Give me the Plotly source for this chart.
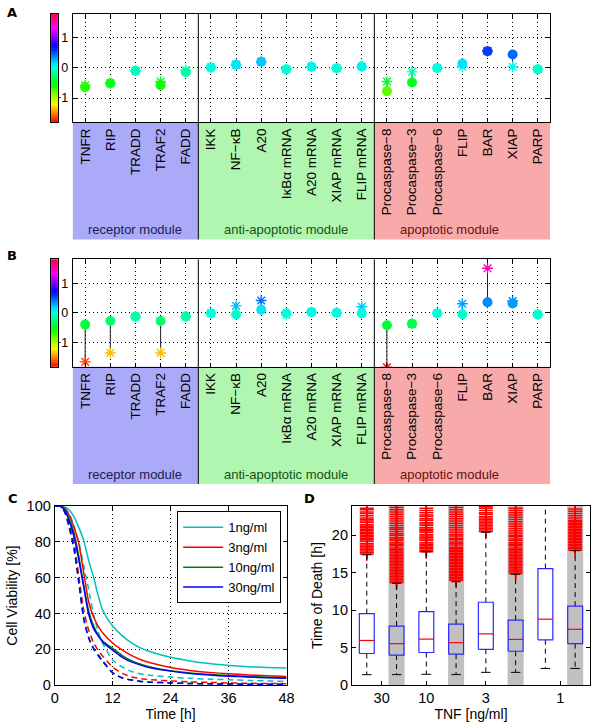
import colorsys
import plotly.graph_objects as go

W, H = 600, 728

# ---------------- data ----------------
cats = ["TNFR", "RIP", "TRADD", "TRAF2", "FADD",
        "IKK", "NF\u2212\u03baB", "A20", "I\u03baB\u03b1 mRNA", "A20 mRNA", "XIAP mRNA", "FLIP mRNA",
        "Procaspase\u22128", "Procaspase\u22123", "Procaspase\u22126", "FLIP", "BAR", "XIAP", "PARP"]
module_names = ["receptor module", "anti-apoptotic module", "apoptotic module"]
module_sizes = [5, 7, 7]
module_fill = ["#aaaaf8", "#b0f5b0", "#f8aaaa"]
module_text = ["#1c1c50", "#145214", "#6a1010"]

a_dot = [-0.64, -0.51, -0.09, -0.57, -0.14, 0.02, 0.11, 0.21, -0.04, 0.04, -0.01, 0.05,
         -0.77, -0.48, 0.0, 0.15, 0.56, 0.45, -0.04]
a_star = [-0.58, -0.51, -0.09, -0.45, -0.07, 0.02, 0.11, 0.21, -0.04, 0.04, -0.01, 0.05,
          -0.45, -0.13, 0.0, 0.04, 0.56, 0.04, -0.04]
b_dot = [-0.39, -0.27, -0.12, -0.27, -0.12, -0.01, -0.05, 0.11, -0.01, 0.03, 0.01, -0.01,
         -0.41, -0.36, -0.01, -0.04, 0.36, 0.32, -0.05]
b_star = [-1.64, -1.34, -0.12, -1.34, -0.12, -0.01, 0.24, 0.42, -0.07, 0.03, 0.01, 0.21,
          -1.82, -0.36, -0.01, 0.31, 1.50, 0.40, -0.05]
colorbar_levels = [-1.8 + 0.05 * i for i in range(73)]

t_hours = [0, 1, 2, 3, 4, 5, 6, 7, 8, 9, 10, 12, 14, 16, 18, 20, 24, 28, 32, 36, 40, 44, 48]
conc_labels = ["1ng/ml", "3ng/ml", "10ng/ml", "30ng/ml"]
conc_colors = ["#00bfbf", "#ff0000", "#008000", "#0000ff"]
via_solid = [
    [100, 100, 99.5, 98, 94, 88, 81, 70, 61, 50, 41.5, 33, 27.5, 23.5, 20.5, 18.5, 15.5, 13.5, 12, 11, 10.3, 9.8, 9.5],
    [100, 100, 99, 95, 88, 79, 63, 47, 38.5, 33, 29, 23.5, 19.5, 16.5, 14, 12.3, 9.8, 8.2, 7.1, 6.3, 5.7, 5.2, 4.8],
    [100, 100, 98.5, 93, 85, 72, 56, 42, 33.5, 28, 24.5, 20.5, 16.5, 13.5, 11.5, 10, 8, 6.8, 6, 5.3, 4.8, 4.4, 4.1],
    [100, 100, 98, 92, 83, 70, 55, 40, 32, 27.5, 24, 19.5, 15.5, 12.8, 11, 9.5, 7.8, 6.5, 5.6, 5, 4.5, 4.1, 3.8],
]
via_dash = [
    [100, 100, 99, 96, 89, 80, 67, 54, 40, 30, 23, 14, 10, 7.5, 6.2, 5.4, 4.5, 3.8, 3.3, 3, 2.6, 2.3, 2.1],
    [100, 100, 98, 91, 80, 61, 42, 31, 24, 19.5, 16, 10, 6.5, 4.5, 3.5, 3, 2.3, 1.8, 1.5, 1.2, 1, 0.9, 0.8],
    [100, 100, 97.5, 89, 77, 58, 38, 27, 21, 17, 13.5, 7, 4, 2.8, 2, 1.6, 1.2, 0.9, 0.7, 0.6, 0.5, 0.5, 0.5],
    [100, 100, 97, 88, 76, 57, 37, 26.5, 20.5, 16.5, 13, 6.8, 4, 2.8, 2, 1.6, 1.2, 0.9, 0.7, 0.6, 0.5, 0.5, 0.5],
]

tnf_labels = ["30", "10", "3", "1"]
tnf_tickpos = [1.5, 3, 5, 7.5]
box_pos = [1, 2, 3, 4, 5, 6, 7, 8]
box_shaded = [False, True, False, True, False, True, False, True]
box_q1 = [4.22, 4.0, 4.35, 4.13, 4.78, 4.52, 6.05, 5.53]
box_med = [5.96, 5.53, 6.14, 5.66, 6.84, 6.1, 8.8, 7.45]
box_q3 = [9.54, 7.88, 9.8, 8.14, 11.06, 8.67, 15.55, 10.54]
box_lo = [1.39, 1.4, 1.44, 1.4, 1.7, 1.7, 2.22, 2.22]
box_hi = [17.4, 13.6, 17.8, 13.8, 20.4, 14.8, 24.5, 17.95]
box_out = [
    [17.5, 17.7, 17.9, 18.1, 18.3, 18.5, 18.7, 18.9, 19.2, 19.4, 19.6, 19.8, 20.0, 20.2, 20.4, 20.6,
     20.8, 21.0, 21.2, 21.4, 21.7, 21.9, 22.1, 22.3, 22.6, 22.9, 23.1, 23.4, 23.6],
    [13.7, 13.9, 14.1, 14.3, 14.5, 14.7, 14.9, 15.1, 15.3, 15.5, 15.7, 15.9, 16.1, 16.3, 16.5, 16.7,
     16.9, 17.1, 17.3, 17.5, 17.7, 17.9, 18.1, 18.3, 18.6, 18.8, 19.0, 19.3, 19.5, 19.7, 20.0, 20.2,
     20.5, 20.8, 21.0, 21.3, 21.6, 21.9, 22.2, 22.5, 22.8, 23.1, 23.4, 23.7],
    [17.8, 18.0, 18.2, 18.4, 18.6, 18.8, 19.0, 19.3, 19.5, 19.7, 19.9, 20.1, 20.4, 20.6, 20.8, 21.0,
     21.3, 21.5, 21.7, 22.0, 22.2, 22.5, 22.7, 23.0, 23.3, 23.6],
    [14.0, 14.2, 14.4, 14.6, 14.8, 15.0, 15.2, 15.4, 15.6, 15.8, 16.0, 16.2, 16.4, 16.6, 16.8, 17.0,
     17.2, 17.4, 17.6, 17.8, 18.0, 18.2, 18.4, 18.7, 18.9, 19.1, 19.4, 19.6, 19.9, 20.1, 20.4, 20.7,
     21.0, 21.3, 21.6, 21.9, 22.2, 22.5, 22.8, 23.1, 23.4, 23.7],
    [20.5, 20.7, 20.9, 21.1, 21.3, 21.5, 21.7, 21.9, 22.1, 22.3, 22.5, 22.8, 23.0, 23.3, 23.6, 23.8],
    [14.9, 15.1, 15.3, 15.5, 15.7, 15.9, 16.1, 16.3, 16.5, 16.7, 16.9, 17.1, 17.3, 17.5, 17.7, 17.9,
     18.1, 18.3, 18.6, 18.8, 19.0, 19.3, 19.5, 19.8, 20.0, 20.3, 20.6, 20.9, 21.2, 21.5, 21.8, 22.1,
     22.4, 22.7, 23.0, 23.3, 23.6],
    [],
    [18.0, 18.2, 18.4, 18.6, 18.8, 19.0, 19.2, 19.4, 19.6, 19.8, 20.0, 20.2, 20.4, 20.6, 20.8, 21.0,
     21.2, 21.4, 21.6, 21.8, 22.0, 22.3, 22.6, 22.9, 23.2, 23.5],
]

# ---------------- helpers ----------------
FONT = "Liberation Sans, Arial, Helvetica, sans-serif"


def px_x(p):
    return p / W


def px_y(p):
    return 1 - p / H


# hsv colormap (MATLAB-like)
hsv_scale = []
N = 24
for i in range(N + 1):
    f = i / N
    r, g, b = colorsys.hsv_to_rgb(f * 0.96, 1.0, 1.0)
    hsv_scale.append([f, "rgb(%d,%d,%d)" % (round(r * 255), round(g * 255), round(b * 255))])

fig = go.Figure()

GRID = dict(showgrid=True, gridcolor="#000000", gridwidth=1, griddash="1px,3px")


def axstyle(size):
    return dict(showline=True, linecolor="black", linewidth=1, ticks="inside",
                ticklen=4, tickcolor="black", zeroline=False,
                tickfont=dict(size=size, color="black", family=FONT))


xpos = list(range(1, len(cats) + 1))
panels = [
    ("A", a_dot, a_star, 6.0, 116.7, 236.7, "coloraxis", "x", "y", "x5", "y5", 5),
    ("B", b_dot, b_star, 257.0, 366.7, 486.7, "coloraxis2", "x2", "y2", "x6", "y6", 253),
]
shapes = []
annotations = []
for k, (letter, dots, stars, top, bot, bandbot, cax, xr, yr, cbx, cby, ly) in enumerate(panels):
    stem_x, stem_y = [], []
    for xp, d, s in zip(xpos, dots, stars):
        stem_x += [xp, xp, None]
        stem_y += [d, s, None]
    fig.add_trace(go.Scatter(x=stem_x, y=stem_y, mode="lines", line=dict(color="#222222", width=1),
                             xaxis=xr, yaxis=yr, showlegend=False, hoverinfo="skip"))
    fig.add_trace(go.Scatter(x=xpos, y=stars, mode="markers", xaxis=xr, yaxis=yr, showlegend=False,
                             marker=dict(symbol="asterisk-open", size=9, color=stars, coloraxis=cax,
                                         line=dict(width=1.4))))
    fig.add_trace(go.Scatter(x=xpos, y=dots, mode="markers", xaxis=xr, yaxis=yr, showlegend=False,
                             marker=dict(symbol="circle", size=10, color=dots, coloraxis=cax,
                                         line=dict(width=0))))
    # colour bar drawn as a one-column heatmap
    fig.add_trace(go.Heatmap(z=[[v] for v in colorbar_levels], y=colorbar_levels, x=[0],
                             coloraxis=cax, xaxis=cbx, yaxis=cby, hoverinfo="skip"))
    # module bands
    start = 0.5
    for name, size, fc, tc in zip(module_names, module_sizes, module_fill, module_text):
        shapes.append(dict(type="rect", xref=xr, yref="paper", x0=start, x1=start + size,
                           y0=px_y(bandbot), y1=px_y(bot), fillcolor=fc, line=dict(width=0),
                           layer="below"))
        start += size
    start = 0.5
    for i, size in enumerate(module_sizes[:-1]):
        start += size
        shapes.append(dict(type="line", xref=xr, yref="paper", x0=start, x1=start,
                           y0=px_y(bandbot), y1=px_y(top), line=dict(color="black", width=1)))
    for name, cx, tc in zip(module_names, [3, 9, 15.5], module_text):
        annotations.append(dict(text=name, xref=xr, yref="paper", x=cx, y=px_y(bandbot - 10),
                                showarrow=False, font=dict(size=13, color=tc, family=FONT),
                                xanchor="center", yanchor="middle"))
    annotations.append(dict(text="<b>%s</b>" % letter, xref="paper", yref="paper", x=px_x(1),
                            y=px_y(ly), showarrow=False, xanchor="left", yanchor="middle",
                            font=dict(size=13, color="black", family="DejaVu Sans, Arial")))
    xa = dict(domain=[px_x(70), px_x(557.5)], range=[0.5, 19.5], tickmode="array", tickvals=xpos,
              ticktext=cats, tickangle=-90, anchor=yr, mirror="allticks", **axstyle(13.5), **GRID)
    ya = dict(domain=[px_y(bot), px_y(top)], range=[-1.8, 1.8], tickmode="array",
              tickvals=[-1, 0, 1], anchor=xr, mirror="allticks", ticklabelstandoff=1,
              **axstyle(12.5), **GRID)
    cbxa = dict(domain=[px_x(48), px_x(55)], range=[-0.5, 0.5], anchor=cby, showticklabels=False,
                ticks="", showgrid=False, zeroline=False, showline=True, linecolor="black",
                linewidth=1, mirror=True)
    cbya = dict(domain=[px_y(bot), px_y(top)], range=[-1.8, 1.8], anchor=cbx, showticklabels=False,
                ticks="", showgrid=False, zeroline=False, showline=True, linecolor="black",
                linewidth=1, mirror=True)
    xkey = "xaxis" if k == 0 else "xaxis2"
    ykey = "yaxis" if k == 0 else "yaxis2"
    fig.update_layout({xkey: xa, ykey: ya,
                       "xaxis%d" % (5 + k): cbxa, "yaxis%d" % (5 + k): cbya})
    fig.update_layout({cax: dict(cmin=-1.8, cmax=1.8, colorscale=hsv_scale, showscale=False)})

# ---------------- panel C ----------------
for lab, col, ys in zip(conc_labels, conc_colors, via_dash):
    fig.add_trace(go.Scatter(x=t_hours, y=ys, mode="lines", line=dict(color=col, width=1.5, dash="6px,4px",
                                                                        shape="spline", smoothing=0.6),
                             xaxis="x3", yaxis="y3", showlegend=False))
for lab, col, ys in zip(conc_labels, conc_colors, via_solid):
    fig.add_trace(go.Scatter(x=t_hours, y=ys, mode="lines", name=lab,
                             line=dict(color=col, width=1.5, shape="spline", smoothing=0.6),
                             xaxis="x3", yaxis="y3", showlegend=True))
fig.update_layout(
    xaxis3=dict(domain=[px_x(51.7), px_x(288.3)], range=[0, 48], tickvals=[0, 12, 24, 36, 48],
                anchor="y3", mirror="allticks",
                title=dict(text="Time [h]", font=dict(size=14), standoff=3), **axstyle(14.5), **GRID),
    yaxis3=dict(domain=[px_y(692.3), px_y(509.3)], range=[0, 100], tickvals=[0, 20, 40, 60, 80, 100],
                anchor="x3", mirror="allticks",
                title=dict(text="Cell Viability [%]", font=dict(size=14), standoff=5),
                **axstyle(14.5), **GRID),
)
annotations.append(dict(text="<b>C</b>", xref="paper", yref="paper", x=px_x(2), y=px_y(502),
                        showarrow=False, xanchor="left", yanchor="middle",
                        font=dict(size=13, color="black", family="DejaVu Sans, Arial")))

# ---------------- panel D ----------------
half_w = 0.25
cap_w = 0.16
band_w = 0.27
for p, sh in zip(box_pos, box_shaded):
    if sh:
        shapes.append(dict(type="rect", xref="x4", yref="y4 domain", x0=p - band_w, x1=p + band_w,
                           y0=0, y1=1, fillcolor="#c0c0c0", line=dict(width=0), layer="below"))
ox, oy = [], []
for p, outs in zip(box_pos, box_out):
    ox += [p] * len(outs)
    oy += outs
fig.add_trace(go.Scatter(x=ox, y=oy, mode="markers", xaxis="x4", yaxis="y4", showlegend=False,
                         marker=dict(symbol="cross-thin-open", size=10, color="#ff0000",
                                     line=dict(width=1.5, color="#ff0000"))))
wx, wy, cx, cy, bx, by, mx, my = [], [], [], [], [], [], [], []
for p, a, m, b, lo, hi in zip(box_pos, box_q1, box_med, box_q3, box_lo, box_hi):
    wx += [p, p, None, p, p, None]
    wy += [b, hi, None, a, lo, None]
    cx += [p - cap_w, p + cap_w, None, p - cap_w, p + cap_w, None]
    cy += [lo, lo, None, hi, hi, None]
    bx += [p - half_w, p + half_w, p + half_w, p - half_w, p - half_w, None]
    by += [a, a, b, b, a, None]
    mx += [p - half_w, p + half_w, None]
    my += [m, m, None]
fig.add_trace(go.Scatter(x=wx, y=wy, mode="lines", line=dict(color="black", width=1, dash="5px,4px"),
                         xaxis="x4", yaxis="y4", showlegend=False))
fig.add_trace(go.Scatter(x=cx, y=cy, mode="lines", line=dict(color="black", width=1),
                         xaxis="x4", yaxis="y4", showlegend=False))
fig.add_trace(go.Scatter(x=bx, y=by, mode="lines", line=dict(color="#2a2aff", width=1.2),
                         xaxis="x4", yaxis="y4", showlegend=False))
fig.add_trace(go.Scatter(x=mx, y=my, mode="lines", line=dict(color="#ff0000", width=1.2),
                         xaxis="x4", yaxis="y4", showlegend=False))
fig.update_layout(
    xaxis4=dict(domain=[px_x(355), px_x(598)], range=[0.5, 8.5], tickmode="array",
                tickvals=tnf_tickpos, ticktext=tnf_labels, anchor="y4", showgrid=False, mirror=True,
                title=dict(text="TNF [ng/ml]", font=dict(size=14), standoff=3), **axstyle(14.5)),
    yaxis4=dict(domain=[px_y(692.3), px_y(509.3)], range=[0, 23.9], tickvals=[0, 5, 10, 15, 20],
                anchor="x4", showgrid=False, mirror="allticks",
                title=dict(text="Time of Death [h]", font=dict(size=14), standoff=5),
                **axstyle(14.5)),
)
annotations.append(dict(text="<b>D</b>", xref="paper", yref="paper", x=px_x(304), y=px_y(502),
                        showarrow=False, xanchor="left", yanchor="middle",
                        font=dict(size=13, color="black", family="DejaVu Sans, Arial")))

fig.update_layout(
    width=W, height=H, margin=dict(l=0, r=0, t=0, b=0),
    paper_bgcolor="white", plot_bgcolor="white",
    font=dict(family=FONT, size=14, color="black"),
    shapes=shapes, annotations=annotations,
    legend=dict(x=px_x(176.7), y=px_y(514.7), xanchor="left", yanchor="top",
                bordercolor="black", borderwidth=1, bgcolor="white",
                font=dict(size=13), tracegroupgap=0, itemwidth=40),
)

fig.write_html("out.html", config={"displayModeBar": False},
               post_script="document.body.style.margin='0';document.body.style.padding='0';"
                           "document.body.style.overflow='hidden';")
